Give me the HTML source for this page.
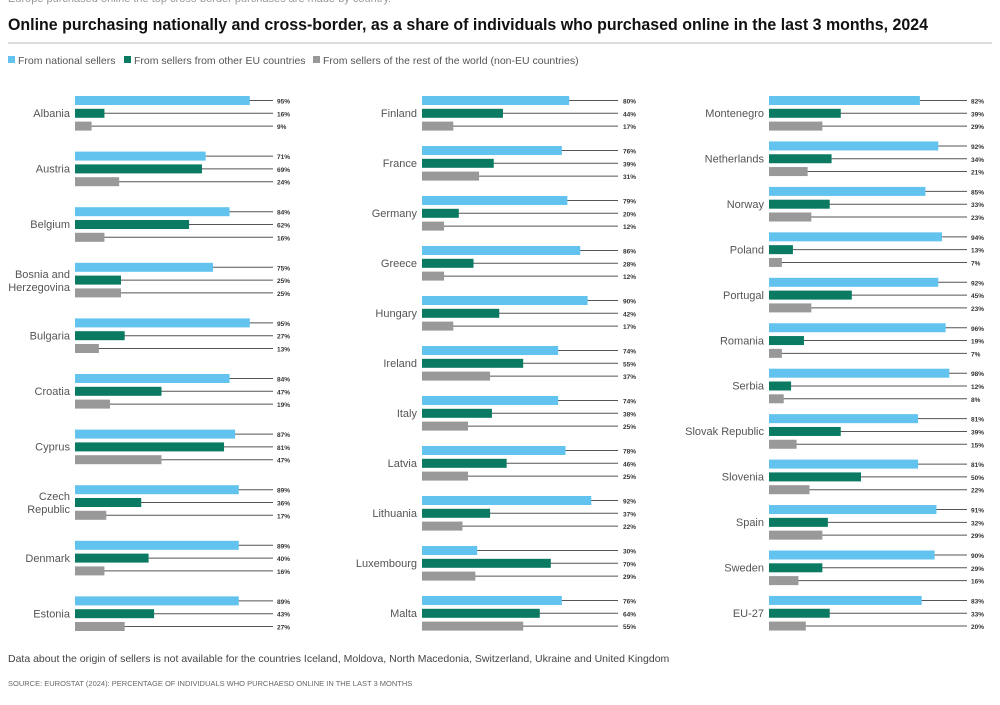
<!DOCTYPE html>
<html><head><meta charset="utf-8"><style>
body{margin:0;background:#fff;width:1000px;height:700px;overflow:hidden;font-family:"Liberation Sans",sans-serif}
</style></head><body>
<svg id="s" width="1000" height="700" xmlns="http://www.w3.org/2000/svg" font-family="Liberation Sans, sans-serif">
<text x="8" y="2" font-size="11" fill="#999">Europe purchased online the top cross-border purchases are made by country.</text>
<text x="8" y="30" font-size="17" font-weight="bold" fill="#111" textLength="920" lengthAdjust="spacingAndGlyphs">Online purchasing nationally and cross-border, as a share of individuals who purchased online in the last 3 months, 2024</text>
<line x1="8" y1="43" x2="992" y2="43" stroke="#bbb" stroke-width="1"/>
<rect x="8" y="56" width="7" height="7" fill="#62c3ef"/><text x="18" y="64" font-size="10.5" fill="#555">From national sellers</text>
<rect x="124" y="56" width="7" height="7" fill="#0b7a62"/><text x="134" y="64" font-size="10.5" fill="#555">From sellers from other EU countries</text>
<rect x="313" y="56" width="7" height="7" fill="#999"/><text x="323" y="64" font-size="10.5" fill="#555">From sellers of the rest of the world (non-EU countries)</text>
<g id="g"></g>
<text x="8" y="662" font-size="10.5" fill="#444">Data about the origin of sellers is not available for the countries Iceland, Moldova, North Macedonia, Switzerland, Ukraine and United Kingdom</text>
<text x="8" y="686" font-size="7.5" fill="#666">SOURCE: EUROSTAT (2024): PERCENTAGE OF INDIVIDUALS WHO PURCHAESD ONLINE IN THE LAST 3 MONTHS</text>
</svg>
<script>
var cols=[
{x:75,le:273,lx:277,sp:55.6,d:[["Albania",95,16,9],["Austria",71,69,24],["Belgium",84,62,16],["Bosnia and|Herzegovina",75,25,25],["Bulgaria",95,27,13],["Croatia",84,47,19],["Cyprus",87,81,47],["Czech|Republic",89,36,17],["Denmark",89,40,16],["Estonia",89,43,27]]},
{x:422,le:618,lx:623,sp:50,d:[["Finland",80,44,17],["France",76,39,31],["Germany",79,20,12],["Greece",86,28,12],["Hungary",90,42,17],["Ireland",74,55,37],["Italy",74,38,25],["Latvia",78,46,25],["Lithuania",92,37,22],["Luxembourg",30,70,29],["Malta",76,64,55]]},
{x:769,le:967,lx:971,sp:45.45,d:[["Montenegro",82,39,29],["Netherlands",92,34,21],["Norway",85,33,23],["Poland",94,13,7],["Portugal",92,45,23],["Romania",96,19,7],["Serbia",98,12,8],["Slovak Republic",81,39,15],["Slovenia",81,50,22],["Spain",91,32,29],["Sweden",90,29,16],["EU-27",83,33,20]]}];
var h='',cl=['#62c3ef','#0b7a62','#999'];
cols.forEach(function(c){c.d.forEach(function(r,i){var y=96+i*c.sp;
for(var k=0;k<3;k++){var yy=y+k*12.8,w=r[k+1]*1.84;
h+='<line x1="'+c.x+'" x2="'+c.le+'" y1="'+(yy+4.5)+'" y2="'+(yy+4.5)+'" stroke="#555" stroke-width="1"/>';
h+='<rect x="'+c.x+'" y="'+yy+'" width="'+w+'" height="9" fill="'+cl[k]+'"/>';
h+='<text x="'+c.lx+'" y="'+(yy+7.5)+'" font-size="6.5" font-weight="bold" fill="#333">'+r[k+1]+'%</text>';}
var n=r[0].split('|');
if(n.length==1)h+='<text x="'+(c.x-5)+'" y="'+(y+21)+'" text-anchor="end" font-size="11" fill="#555">'+n[0]+'</text>';
else{h+='<text x="'+(c.x-5)+'" y="'+(y+15)+'" text-anchor="end" font-size="11" fill="#555">'+n[0]+'</text>';h+='<text x="'+(c.x-5)+'" y="'+(y+28)+'" text-anchor="end" font-size="11" fill="#555">'+n[1]+'</text>';}
});});
document.getElementById('g').innerHTML=h;
</script>
</body></html>
